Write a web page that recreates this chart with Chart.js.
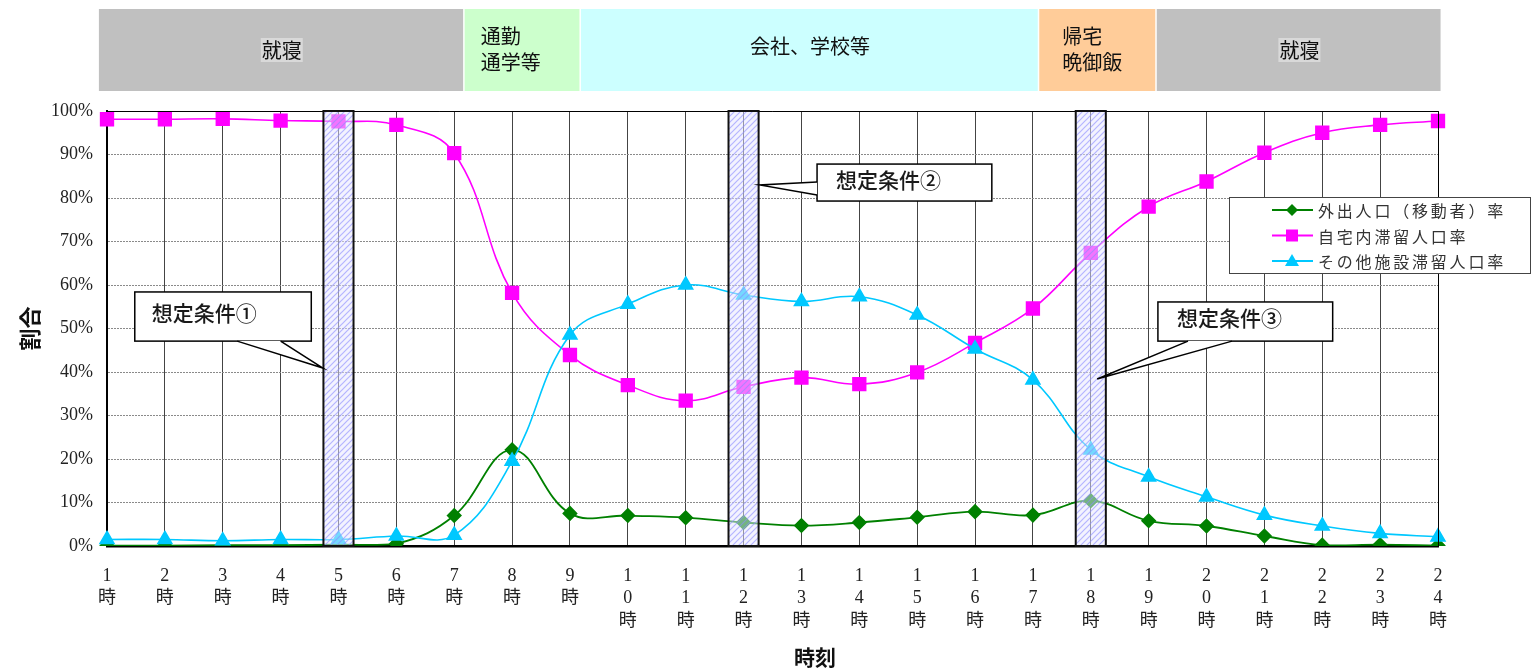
<!DOCTYPE html>
<html lang="ja">
<head>
<meta charset="utf-8">
<title>時刻別滞留人口率</title>
<script src="https://cdn.jsdelivr.net/npm/chart.js@4/dist/chart.umd.min.js"></script>
<style>
  html, body { margin: 0; padding: 0; background: #fff; }
  #wrap { width: 1532px; height: 671px; }
</style>
</head>
<body>
<div id="wrap"><canvas id="myChart" width="1532" height="671"></canvas></div>
<script>
// --- data ---
const hourLabels = ['1時', '2時', '3時', '4時', '5時', '6時', '7時', '8時', '9時', '10時', '11時', '12時',
                    '13時', '14時', '15時', '16時', '17時', '18時', '19時', '20時', '21時', '22時', '23時', '24時'];
const outingRate = [0.1, 0.1, 0.2, 0.2, 0.3, 0.5, 7.0, 22.1, 7.5, 7.0, 6.5, 5.4,
                    4.7, 5.4, 6.6, 7.9, 7.1, 10.4, 5.8, 4.6, 2.3, 0.2, 0.3, 0.1];
const homeRate = [98.1, 98.1, 98.2, 97.8, 97.6, 96.8, 90.3, 58.2, 43.9, 37.0, 33.4, 36.6,
                  38.7, 37.2, 39.9, 46.7, 54.6, 67.4, 78.0, 83.8, 90.4, 95.0, 96.8, 97.7];
const otherRate = [1.5, 1.5, 1.2, 1.5, 1.5, 2.3, 2.5, 19.5, 48.5, 55.6, 60.0, 57.7,
                   56.2, 57.3, 53.1, 45.3, 38.2, 22.1, 15.9, 11.3, 7.1, 4.6, 2.9, 2.1];
const seriesNames = ['外出人口（移動者）率', '自宅内滞留人口率', 'その他施設滞留人口率'];

const yTickValues = [0, 10, 20, 30, 40, 50, 60, 70, 80, 90, 100];

// activity bands along the top (hour ranges)
const bandLabels = ['就寝', '通勤\n通学等', '会社、学校等', '帰宅\n晩御飯', '就寝'];
const bandFrom = [0.86, 7.18, 9.19, 17.11, 19.14];
const bandTo = [7.18, 9.19, 17.11, 19.14, 24.07];
const bandColors = ['#c0c0c0', '#ccffcc', '#ccffff', '#ffcc99', '#c0c0c0'];

// assumed conditions (hours)
const conditionHours = [5, 12, 18];
const conditionLabels = ['想定条件①', '想定条件②', '想定条件③'];

// --- drawing ---
const CJK = '"Noto Sans CJK JP", "Noto Sans", sans-serif';
const SERIF = '"Liberation Serif", "DejaVu Serif", "Noto Sans CJK JP", serif';

function hx(chart, h) { return chart.scales.x.getPixelForValue(h - 1); }
function vy(chart, v) { return chart.scales.y.getPixelForValue(v); }

function makeHatch(ctx) {
  const c = document.createElement('canvas');
  c.width = 6; c.height = 6;
  const p = c.getContext('2d');
  p.fillStyle = 'rgba(232,232,255,0.5)';
  p.fillRect(0, 0, 6, 6);
  p.strokeStyle = 'rgba(140,140,255,0.6)';
  p.lineWidth = 1.2;
  p.beginPath();
  p.moveTo(-1, 7); p.lineTo(7, -1);
  p.moveTo(-4, 4); p.lineTo(4, -4);
  p.moveTo(2, 10); p.lineTo(10, 2);
  p.stroke();
  return ctx.createPattern(c, 'repeat');
}

const bandPlugin = {
  id: 'activityBands',
  beforeDraw(chart) {
    const { ctx, chartArea } = chart;
    const top = chartArea.top - 102, h = 82;
    ctx.save();
    ctx.font = '20px ' + CJK;
    ctx.textBaseline = 'middle';
    bandLabels.forEach((lab, i) => {
      const x0 = hx(chart, bandFrom[i]), x1 = hx(chart, bandTo[i]);
      ctx.fillStyle = bandColors[i];
      ctx.fillRect(x0, top, x1 - x0 - 1.5, h);
      const lines = lab.split('\n');
      if (lines.length > 1) {
        ctx.fillStyle = '#111';
        ctx.textAlign = 'left';
        const tx = x0 + (i === 1 ? 16 : 23);
        ctx.fillText(lines[0], tx, top + 27);
        ctx.fillText(lines[1], tx, top + 53);
      } else {
        const cx = (x0 + x1) / 2;
        const gray = bandColors[i] === '#c0c0c0';
        const cyy = top + (gray ? 41 : 37);
        if (gray) {
          const w = ctx.measureText(lab).width;
          ctx.fillStyle = '#d9d9d9';
          ctx.fillRect(cx - w / 2 - 1, cyy - 12, w + 2, 24);
        }
        ctx.fillStyle = '#111';
        ctx.textAlign = 'center';
        ctx.fillText(lab, cx, cyy);
      }
    });
    ctx.restore();
  }
};

// callout boxes: box [h0,h1] x [v0,v1], tail base points and tip (hour, %)
const callouts = [
  { box: [1.48, 4.53, 58.4, 47.1], base: [[3.25, 47.1], [4.0, 47.1]], tip: [4.73, 40.9], tx: 17 },
  { box: [13.27, 16.29, 87.8, 79.3], base: [[13.27, 83.7], [13.27, 80.7]], tip: [12.28, 83.0], tx: 19 },
  { box: [19.16, 22.18, 56.1, 47.1], base: [[19.68, 47.1], [20.44, 47.1]], tip: [18.11, 38.4], tx: 19 }
];

const overlayPlugin = {
  id: 'conditions',
  afterDatasetsDraw(chart) {
    const { ctx, chartArea } = chart;
    ctx.save();
    // chart frame (top / right)
    ctx.strokeStyle = '#000';
    ctx.lineWidth = 1;
    ctx.beginPath();
    ctx.moveTo(chartArea.left, chartArea.top + 0.5);
    ctx.lineTo(chartArea.right + 0.5, chartArea.top + 0.5);
    ctx.lineTo(chartArea.right + 0.5, chartArea.bottom);
    ctx.stroke();

    // hatched condition columns
    const pat = makeHatch(ctx);
    conditionHours.forEach(hr => {
      const x0 = hx(chart, hr - 0.26), x1 = hx(chart, hr + 0.26);
      const y0 = vy(chart, 100), y1 = vy(chart, 0);
      ctx.fillStyle = pat;
      ctx.fillRect(x0, y0, x1 - x0, y1 - y0);
      ctx.strokeStyle = '#111';
      ctx.lineWidth = 2;
      ctx.strokeRect(x0, y0, x1 - x0, y1 - y0);
    });

    // callouts
    callouts.forEach((c, i) => {
      const bx0 = hx(chart, c.box[0]), bx1 = hx(chart, c.box[1]);
      const by0 = vy(chart, c.box[2]), by1 = vy(chart, c.box[3]);
      ctx.fillStyle = '#fff';
      ctx.strokeStyle = '#000';
      ctx.lineWidth = 1.5;
      ctx.fillRect(bx0, by0, bx1 - bx0, by1 - by0);
      ctx.strokeRect(bx0, by0, bx1 - bx0, by1 - by0);
      const b0 = [hx(chart, c.base[0][0]), vy(chart, c.base[0][1])];
      const b1 = [hx(chart, c.base[1][0]), vy(chart, c.base[1][1])];
      const tp = [hx(chart, c.tip[0]), vy(chart, c.tip[1])];
      ctx.beginPath();
      ctx.moveTo(b0[0], b0[1]);
      ctx.lineTo(tp[0], tp[1]);
      ctx.lineTo(b1[0], b1[1]);
      ctx.closePath();
      ctx.fill();
      ctx.beginPath();
      ctx.moveTo(b0[0], b0[1]);
      ctx.lineTo(tp[0], tp[1]);
      ctx.lineTo(b1[0], b1[1]);
      ctx.stroke();
      ctx.fillStyle = '#1a1a1a';
      ctx.font = '500 21px ' + CJK;
      ctx.textAlign = 'left';
      ctx.textBaseline = 'middle';
      ctx.fillText(conditionLabels[i], bx0 + c.tx, by0 + (by1 - by0) * 0.42);
    });
    ctx.restore();
  },
  afterDraw(chart) {
    const { ctx, chartArea } = chart;
    ctx.save();
    // legend
    const bx = chartArea.right - 209, by = chartArea.top + 86, bw = 301, bh = 76;
    ctx.fillStyle = '#fff';
    ctx.fillRect(bx, by, bw, bh);
    ctx.strokeStyle = '#444';
    ctx.lineWidth = 1;
    ctx.strokeRect(bx + 0.5, by + 0.5, bw, bh);
    chart.data.datasets.forEach((ds, i) => {
      const y = by + 13 + i * 25.5;
      ctx.strokeStyle = ds.borderColor;
      ctx.lineWidth = 2;
      ctx.beginPath();
      ctx.moveTo(bx + 43, y); ctx.lineTo(bx + 84, y);
      ctx.stroke();
      ctx.fillStyle = ds.backgroundColor;
      const mx = bx + 63;
      ctx.beginPath();
      if (ds.pointStyle === 'rectRot') {
        ctx.moveTo(mx, y - 6); ctx.lineTo(mx + 6, y); ctx.lineTo(mx, y + 6); ctx.lineTo(mx - 6, y);
      } else if (ds.pointStyle === 'rect') {
        ctx.rect(mx - 6, y - 6, 12, 12);
      } else {
        ctx.moveTo(mx, y - 7); ctx.lineTo(mx + 7, y + 5); ctx.lineTo(mx - 7, y + 5);
      }
      ctx.closePath();
      ctx.fill();
      ctx.fillStyle = '#333';
      ctx.font = '16px ' + CJK;
      ctx.letterSpacing = '2.8px';
      ctx.textAlign = 'left';
      ctx.textBaseline = 'middle';
      ctx.fillText(seriesNames[i], bx + 89, y + 1);
      ctx.letterSpacing = '0px';
    });

    // axis titles
    ctx.fillStyle = '#111';
    ctx.font = 'bold 22px ' + CJK;
    ctx.textAlign = 'center';
    ctx.textBaseline = 'middle';
    ctx.save();
    ctx.translate(30, (chartArea.top + chartArea.bottom) / 2);
    ctx.rotate(-Math.PI / 2);
    ctx.fillText('割合', 0, 0);
    ctx.restore();
    ctx.font = 'bold 21px ' + CJK;
    ctx.fillText('時刻', chartArea.left + (chartArea.right - chartArea.left) * 0.532, 657);
    ctx.restore();
  }
};

const ctx = document.getElementById('myChart').getContext('2d');
const myChart = new Chart(ctx, {
  type: 'line',
  data: {
    labels: hourLabels,
    datasets: [
      {
        label: seriesNames[0],
        data: outingRate,
        borderColor: '#008000',
        backgroundColor: '#008000',
        pointStyle: 'rectRot',
        pointRadius: 6.5,
        borderWidth: 1.8,
        tension: 0.4,
        order: 2
      },
      {
        label: seriesNames[1],
        data: homeRate,
        borderColor: '#ff00ff',
        backgroundColor: '#ff00ff',
        pointStyle: 'rect',
        pointRadius: 9,
        borderWidth: 1.6,
        tension: 0.4,
        order: 1
      },
      {
        label: seriesNames[2],
        data: otherRate,
        borderColor: '#00c8ff',
        backgroundColor: '#00c8ff',
        pointStyle: 'triangle',
        pointRadius: 8,
        borderWidth: 1.6,
        tension: 0.4,
        order: 0
      }
    ]
  },
  options: {
    responsive: false,
    animation: false,
    devicePixelRatio: 1,
    layout: { padding: { left: 0, top: 111, right: 94, bottom: 0 } },
    plugins: {
      legend: { display: false },
      tooltip: { enabled: false }
    },
    scales: {
      x: {
        type: 'category',
        offset: false,
        grid: { color: '#444', lineWidth: 1, drawTicks: false },
        border: { color: '#000', width: 2.5 },
        afterFit(scale) { scale.height = 125; },
        ticks: {
          autoSkip: false,
          maxRotation: 0,
          minRotation: 0,
          padding: 19,
          color: '#222',
          font: { family: SERIF, size: 18, lineHeight: 1.25 },
          callback(value) { return this.getLabelForValue(value).split(''); }
        }
      },
      y: {
        min: 0,
        max: 100,
        grid: { color: '#8a8a8a', lineWidth: 1, drawTicks: false },
        border: { color: '#000', width: 2, dash: [2, 1] },
        afterFit(scale) { scale.width = 107; },
        afterBuildTicks(scale) { scale.ticks = yTickValues.map(v => ({ value: v })); },
        ticks: {
          padding: 14,
          color: '#222',
          font: { family: SERIF, size: 18 },
          callback(value) { return value + '%'; }
        }
      }
    }
  },
  plugins: [bandPlugin, overlayPlugin]
});
</script>
</body>
</html>
